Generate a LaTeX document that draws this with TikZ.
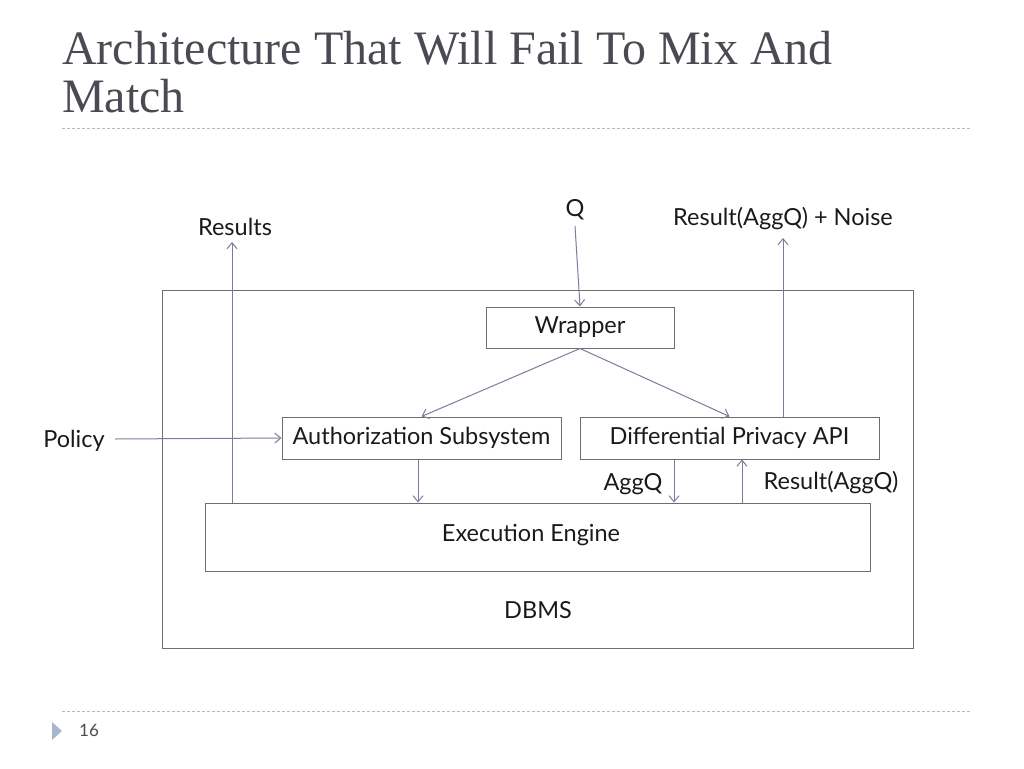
\documentclass[tikz,border=0pt]{standalone}
\usepackage{fontspec}
\setmainfont{Lato}
\newfontfamily\titlefont{Liberation Serif}
\usetikzlibrary{arrows.meta}
\definecolor{linec}{HTML}{7C7C9A}
\definecolor{boxc}{HTML}{6E6E6E}
\definecolor{txtc}{HTML}{1A1A1A}
\definecolor{titlec}{HTML}{4A4A52}
\definecolor{dashc}{HTML}{B8B8B8}
\definecolor{tric}{HTML}{A8B8CC}
\tikzset{
  blk/.style={draw=boxc, line width=1pt, minimum height=42pt, inner sep=0pt, font=\fontsize{23.5}{28}\selectfont, text=txtc},
  lbl/.style={font=\fontsize{23.5}{28}\selectfont, text=txtc, inner sep=0pt},
  conn/.style={draw=linec, line width=1pt, -{Straight Barb[length=6pt,width=10pt]}},
  sep/.style={draw=dashc, line width=1pt, dash pattern=on 3pt off 2pt}
}
\begin{document}
\begin{tikzpicture}[x=1pt,y=-1pt]
\useasboundingbox (0,0) rectangle (1024,768);
% title
\node[anchor=base west, inner sep=0pt, text=titlec, font=\titlefont\fontsize{48}{56}\selectfont] (title) at (62,64) {Architecture That Will Fail To Mix And};
\node[anchor=base west, inner sep=0pt, text=titlec, font=\titlefont\fontsize{48}{56}\selectfont] (title2) at (62,112) {Match};
\coordinate (s1a) at (62,128); \coordinate (s1b) at (972,128);
\draw[sep] (s1a) -- (s1b);
\coordinate (s2a) at (62,711); \coordinate (s2b) at (972,711);
\draw[sep] (s2a) -- (s2b);
\fill[tric] (52,722) -- (62,731) -- (52,740) -- cycle;
\node[text=titlec, font=\fontsize{17}{20}\selectfont, inner sep=0pt] (pg) at (89,730) {16};
% boxes
\node[draw=boxc, line width=1pt, minimum width=751pt, minimum height=358pt, inner sep=0pt] (dbms) at (537.5,469) {};
\node[lbl] (dbmsl) at (538,610) {DBMS};
\node[blk, minimum width=188pt, minimum height=41pt] (wrap) at (580,327.5) {Wrapper};
\node[blk, minimum width=279pt] (auth) at (421.5,438) {Authorization Subsystem};
\node[blk, minimum width=299pt] (dp) at (729.5,438) {Differential Privacy API};
\node[blk, minimum width=665pt, minimum height=68pt] (exec) at (537.5,537) {};
\node[lbl] (execl) at (531,535) {Execution Engine};
% outside labels
\node[lbl] (q) at (575,210) {Q};
\node[lbl] (res) at (235,227) {Results};
\node[lbl] (rn) at (783,219) {Result(AggQ) + Noise};
\node[lbl] (pol) at (74,441) {Policy};
\node[lbl] (aggq) at (633,484) {AggQ};
\node[lbl] (raggq) at (831,483) {Result(AggQ)};
% connectors
\coordinate (qs) at (575,226);
\draw[conn] (qs) -- (wrap.north);
\draw[conn] (wrap.south) -- (auth.north);
\draw[conn] (wrap.south) -- (dp.north);
\coordinate (p1) at (115,439);
\draw[conn] (p1) -- (auth.west);
\coordinate (rs) at (232,503);
\coordinate (re) at (232,242);
\draw[conn] (rs) -- (re);
\coordinate (ns) at (783,417);
\coordinate (ne) at (783,238);
\draw[conn] (ns) -- (ne);
\draw[conn] (auth.south -| 418,0) -- (exec.north -| 418,0);
\draw[conn] (dp.south -| 674,0) -- (exec.north -| 674,0);
\draw[conn] (exec.north -| 742,0) -- (dp.south -| 742,0);
\end{tikzpicture}
\end{document}
